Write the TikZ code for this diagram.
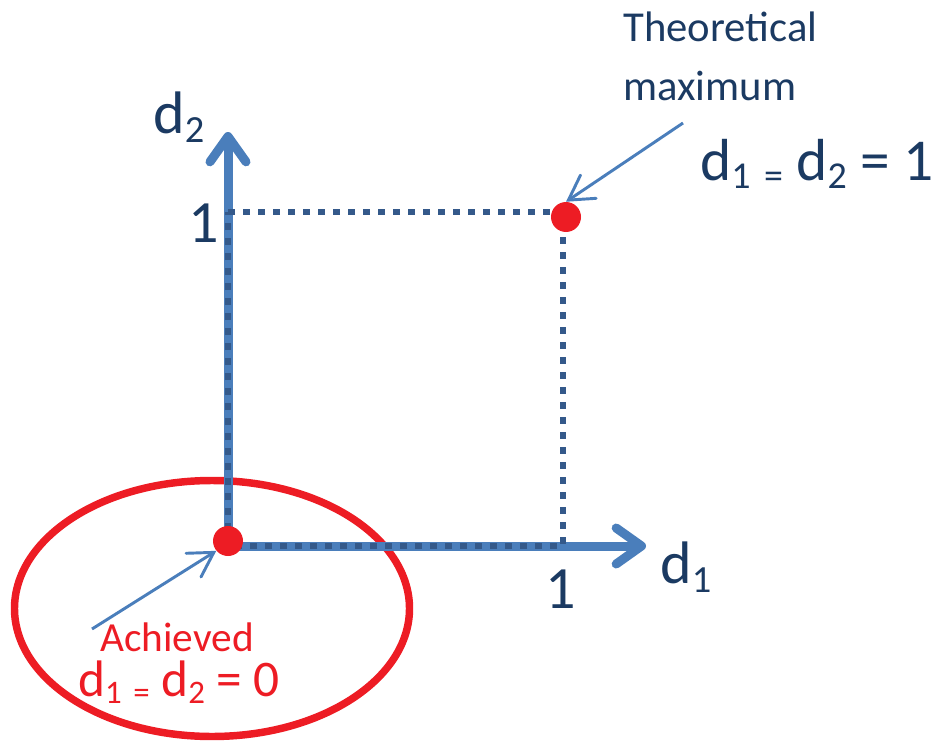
\documentclass[tikz,border=0pt]{standalone}
\usepackage{fontspec}
\setmainfont{Carlito}
\usetikzlibrary{arrows.meta,positioning}
\definecolor{navy}{HTML}{1B3A62}
\definecolor{axisblue}{HTML}{4A7EBB}
\definecolor{dotblue}{HTML}{34598A}
\definecolor{markred}{HTML}{ED1C24}
\newcommand{\low}[1]{\raisebox{-0.15em}{\scalebox{0.64}{#1}}}

\begin{document}
\begin{tikzpicture}[
            x=7.5pt, y=-7.5pt,
            axis/.style={-{Straight Barb[length=19pt,width=27pt,line cap=round,line join=round]}, line width=6.75pt, draw=axisblue},
            grid/.style={line width=5pt, draw=dotblue, dash pattern=on 5.5pt off 5.75pt},
            ring/.style={line width=5.6pt, draw=markred},
            dot/.style={circle, fill=markred, inner sep=0pt, minimum size=22.5pt},
            pointer/.style={-{Straight Barb[length=18pt,width=21pt,line cap=round]}, line width=2.2pt, draw=axisblue},
            lab/.style={text=navy, inner sep=0pt, anchor=base west, font=\fontsize{45pt}{54pt}\selectfont},
            note/.style={text=navy, inner sep=0pt, anchor=base west, font=\fontsize{32pt}{38pt}\selectfont},
            bignote/.style={text=navy, inner sep=0pt, anchor=base west, font=\fontsize{44.5pt}{52pt}\selectfont},
            rednote/.style={text=markred, inner sep=0pt, anchor=base west, font=\fontsize{31pt}{37pt}\selectfont}
        ]
        \useasboundingbox (0,0) rectangle (93.9,74.2);

        % coordinates
        \coordinate (orig) at (22.8,54.6);
        \coordinate (ytip) at (22.8,13.2);
        \coordinate (xtip) at (64.6,54.6);
        \coordinate (ycorner) at (22.8,21.2);
        \coordinate (xcorner) at (56.3,54.6);
        \coordinate (topcorner) at (56.3,21.2);

        % ellipse round the origin
        \draw[ring] (21.2,60.85) ellipse [x radius=19.75, y radius=12.8];

        % axes and dotted box
        \draw[axis] (orig) -- (ytip);
        \draw[axis] (orig) -- (xtip);
        \draw[grid] (ycorner) -- (topcorner) -- (xcorner) -- (orig) -- cycle;

        % nodes
        \node[dot] (zero) at (22.8,54.1) {};
        \node[dot] (peak) at (56.6,21.7) {};
        \node[lab] (dtwo) at (15.3,13.3) {d\low{2}};
        \node[lab, anchor=base] (onetwo) at (20.4,24.2) {1};
        \node[lab, anchor=base] (oneone) at (56.05,60.8) {1};
        \node[lab] (done) at (66.0,58.3) {d\low{1}};
        \node[note] (theo) at (62.3,4.2) {Theoretical};
        \node[note] (maxim) at (62.3,10.0) {maximum};
        \node[bignote] (maxeq) at (70.0,18.0) {d\low{1} \low{=} d\low{2} = 1};
        \node[rednote, text depth=0pt] (achv) at (10.0,65.1) {Achieved};
        \node[rednote, text height=0.62em, font=\fontsize{38.5pt}{44pt}\selectfont] (mineq) at (7.8,69.6) {d\low{1} \low{=} d\low{2} = 0};

        % pointers
        \coordinate (ptop) at (68.3,12.3);
        \coordinate (pbot) at (9.2,62.9);
        \draw[pointer] (ptop) -- (peak.north);
        \draw[pointer] (pbot) -- (zero.220);

    \end{tikzpicture}
\end{document}
